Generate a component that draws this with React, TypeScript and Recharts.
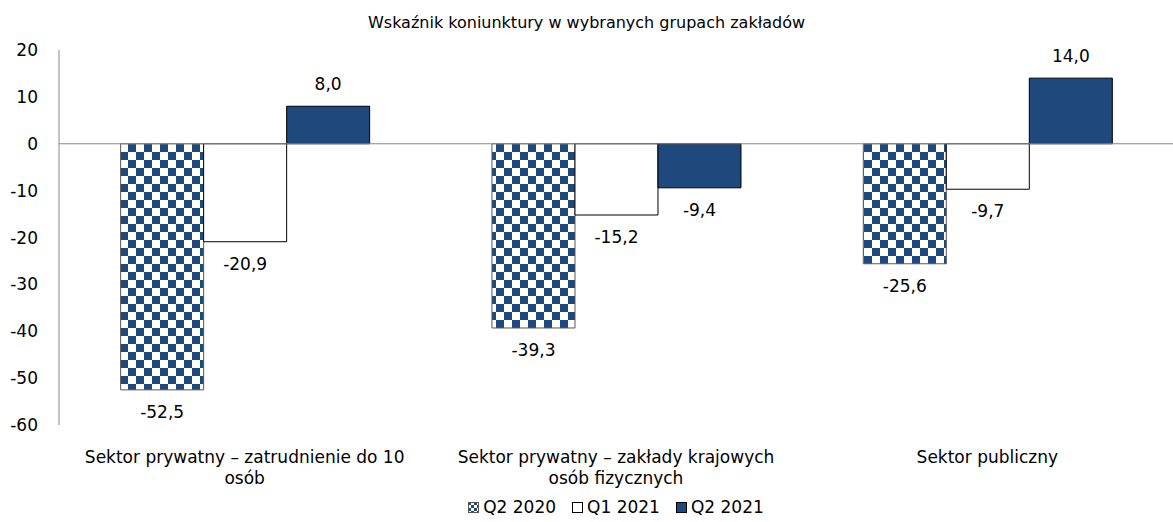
import { BarChart, Bar, XAxis, YAxis, ReferenceLine, LabelList, Legend, Text } from 'recharts';

const categories = [
  'Sektor prywatny – zatrudnienie do 10 osób',
  'Sektor prywatny – zakłady krajowych osób fizycznych',
  'Sektor publiczny',
];
const q2_2020 = [-52.5, -39.3, -25.6];
const q1_2021 = [-20.9, -15.2, -9.7];
const q2_2021 = [8.0, -9.4, 14.0];
const yTicks = [20, 10, 0, -10, -20, -30, -40, -50, -60];

const data = categories.map((name, i) => ({
  name,
  q2_2020: q2_2020[i],
  q1_2021: q1_2021[i],
  q2_2021: q2_2021[i],
}));

const FONT = "Tahoma, 'DejaVu Sans', sans-serif";
const NAVY = '#1f497d';
const FS = 17;

const fmt = (v: number) => v.toFixed(1).replace('.', ',');

const renderLabel = (props: any) => {
  const x = Number(props.x);
  const y = Number(props.y);
  const w = Number(props.width);
  const h = Number(props.height);
  const v = Number(props.value);
  const top = Math.min(y, y + h);
  const bottom = Math.max(y, y + h);
  const cy = v >= 0 ? top - 22 : bottom + 22;
  return (
    <text x={x + w / 2} y={cy} textAnchor="middle" dominantBaseline="central" fontSize={FS} fontFamily={FONT} fill="#000">
      {fmt(v)}
    </text>
  );
};

const CategoryTick = ({ x, y, payload }: any) => (
  <Text
    x={x}
    y={y + 24}
    width={340}
    textAnchor="middle"
    verticalAnchor="start"
    lineHeight={21}
    style={{ fontSize: FS, fontFamily: FONT }}
    fill="#000"
  >
    {payload.value}
  </Text>
);

const legendItems = [
  { label: 'Q2 2020', fill: 'url(#lgChecker)', stroke: '#555' },
  { label: 'Q1 2021', fill: '#fff', stroke: '#000' },
  { label: 'Q2 2021', fill: NAVY, stroke: '#000' },
];

const ChartLegend = () => (
  <div style={{ display: 'flex', justifyContent: 'center', gap: 16, fontFamily: FONT, fontSize: FS, color: '#000' }}>
    <svg width={0} height={0} style={{ position: 'absolute' }}>
      <defs>
        <pattern id="lgChecker" width={6} height={6} patternUnits="userSpaceOnUse">
          <rect width={6} height={6} fill="#fff" />
          <rect width={3} height={3} fill={NAVY} />
          <rect x={3} y={3} width={3} height={3} fill={NAVY} />
        </pattern>
      </defs>
    </svg>
    {legendItems.map((it) => (
      <div key={it.label} style={{ display: 'flex', alignItems: 'center', gap: 4 }}>
        <svg width={11} height={11}>
          <rect x={0.5} y={0.5} width={10} height={10} fill={it.fill} stroke={it.stroke} />
        </svg>
        <span>{it.label}</span>
      </div>
    ))}
  </div>
);

export default function App() {
  return (
    <div style={{ position: 'absolute', left: 0, top: 0, width: 1173, height: 522, background: '#fff' }}>
      <div
        style={{
          position: 'absolute',
          top: 13,
          left: 0,
          width: 1173,
          textAlign: 'center',
          fontFamily: FONT,
          fontSize: 16,
          color: '#000',
        }}
      >
        Wskaźnik koniunktury w wybranych grupach zakładów
      </div>
      <BarChart
        width={1173}
        height={522}
        data={data}
        margin={{ top: 50, right: 0, bottom: 67, left: 0 }}
        barCategoryGap="16.6%"
        barGap={0}
      >
        <defs>
          <pattern id="checker" width={16} height={16} patternUnits="userSpaceOnUse">
            <rect width={16} height={16} fill="#fff" />
            <rect width={8} height={8} fill={NAVY} />
            <rect x={8} y={8} width={8} height={8} fill={NAVY} />
          </pattern>
        </defs>
        <XAxis
          dataKey="name"
          height={30}
          axisLine={false}
          tickLine={false}
          tickSize={0}
          tick={<CategoryTick />}
          interval={0}
        />
        <YAxis
          width={59}
          domain={[-60, 20]}
          ticks={yTicks}
          interval={0}
          tickLine={false}
          tickSize={0}
          tickMargin={21}
          axisLine={{ stroke: '#888' }}
          tick={{ fill: '#000', fontSize: FS, fontFamily: FONT }}
        />
        <ReferenceLine y={0} stroke="#888" />
        <Legend
          verticalAlign="middle"
          align="center"
          content={<ChartLegend />}
          wrapperStyle={{ top: 497, left: 59, width: 1114 }}
        />
        <Bar dataKey="q2_2020" name="Q2 2020" fill="url(#checker)" stroke="#555" isAnimationActive={false}>
          <LabelList dataKey="q2_2020" content={renderLabel} />
        </Bar>
        <Bar dataKey="q1_2021" name="Q1 2021" fill="#fff" stroke="#000" isAnimationActive={false}>
          <LabelList dataKey="q1_2021" content={renderLabel} />
        </Bar>
        <Bar dataKey="q2_2021" name="Q2 2021" fill={NAVY} stroke="#000" isAnimationActive={false}>
          <LabelList dataKey="q2_2021" content={renderLabel} />
        </Bar>
      </BarChart>
    </div>
  );
}
